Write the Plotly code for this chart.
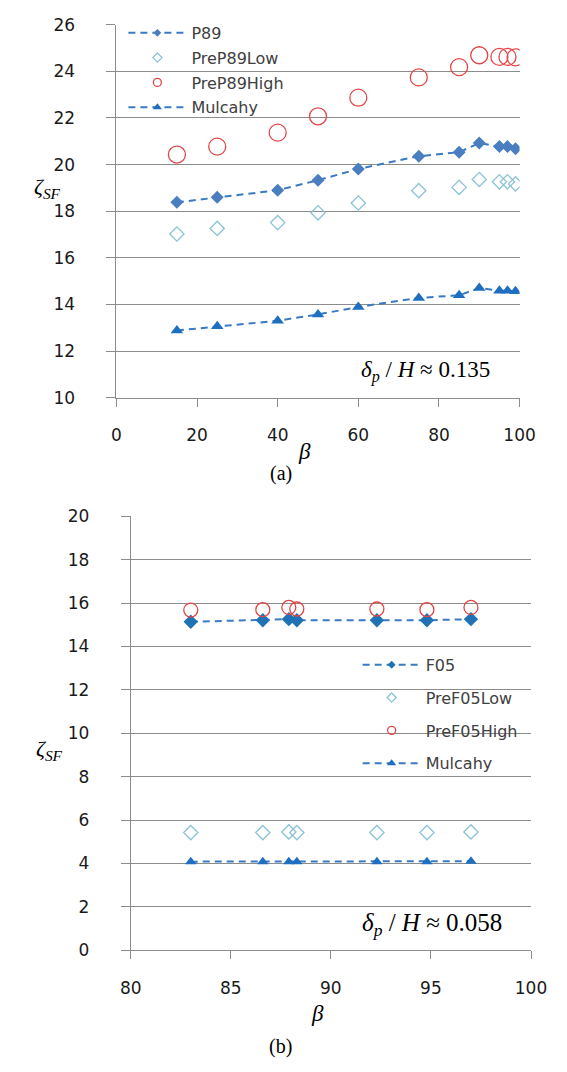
import plotly.graph_objects as go

# ---- Panel (a) data ----
beta_a = [15, 25, 40, 50, 60, 75, 85, 90, 95, 97, 99]
p89 = [18.38, 18.60, 18.90, 19.33, 19.81, 20.36, 20.53, 20.92, 20.77, 20.77, 20.68]
prep89_low = [17.02, 17.26, 17.51, 17.93, 18.35, 18.88, 19.02, 19.36, 19.26, 19.26, 19.17]
prep89_high = [20.43, 20.77, 21.37, 22.07, 22.87, 23.74, 24.18, 24.69, 24.62, 24.62, 24.60]
mulcahy_a = [12.88, 13.06, 13.30, 13.57, 13.89, 14.28, 14.39, 14.70, 14.59, 14.59, 14.56]

# ---- Panel (b) data ----
beta_b = [83.0, 86.6, 87.9, 88.3, 92.3, 94.8, 97.0]
f05 = [15.14, 15.21, 15.26, 15.21, 15.21, 15.21, 15.26]
pref05_low = [5.42, 5.42, 5.45, 5.42, 5.42, 5.42, 5.45]
pref05_high = [15.68, 15.70, 15.80, 15.73, 15.73, 15.70, 15.80]
mulcahy_b = [4.08, 4.08, 4.08, 4.08, 4.08, 4.08, 4.10]

W, H = 567, 1072
def px_x(p): return p / W
def px_y(p): return 1 - p / H

LINE_BLUE = "#3A7AC2"
P89_BLUE = "#4A7EC0"
MUL_BLUE = "#1F6FC0"
LOW_COL = "#8CC3D6"
HIGH_COL = "#E24646"
F05_COL = "#1F72B4"
GRID = "#8C8C8C"
TICKFONT = dict(family="DejaVu Sans, Verdana, sans-serif", size=17, color="#1a1a1a")
LEGFONT = dict(family="DejaVu Sans, Verdana, sans-serif", size=16, color="#404040")
DASH = "7px,5px"

fig = go.Figure()

def add_series(x, y, name, mode, marker, line, xa, ya, leg, grp, legmarker):
    fig.add_trace(go.Scatter(x=x, y=y, mode=mode, marker=marker, line=line, name=name,
                             xaxis=xa, yaxis=ya, showlegend=False))
    lm = dict(marker)
    lm.update(legmarker)
    fig.add_trace(go.Scatter(x=[None], y=[None], mode=mode, marker=lm, line=line, name=name,
                             xaxis=xa, yaxis=ya, legend=leg, legendgroup=grp, showlegend=True))

# Panel (a)
add_series(beta_a, p89, "P89", "lines+markers",
           dict(symbol="diamond", size=10, color=P89_BLUE),
           dict(color=LINE_BLUE, width=2, dash=DASH), "x", "y", "legend", "a1", dict(size=6))
add_series(beta_a, prep89_low, "PreP89Low", "markers",
           dict(symbol="diamond-open", size=11, color=LOW_COL, line=dict(width=1.3, color=LOW_COL)),
           None, "x", "y", "legend", "a2", dict(size=7))
add_series(beta_a, prep89_high, "PreP89High", "markers",
           dict(symbol="circle-open", size=17, color=HIGH_COL, line=dict(width=1.3, color=HIGH_COL)),
           None, "x", "y", "legend", "a3", dict(size=8))
add_series(beta_a, mulcahy_a, "Mulcahy", "lines+markers",
           dict(symbol="triangle-up", size=11, color=MUL_BLUE),
           dict(color=LINE_BLUE, width=2, dash=DASH), "x", "y", "legend", "a4", dict(size=8))

# Panel (b)
add_series(beta_b, f05, "F05", "lines+markers",
           dict(symbol="diamond", size=11, color=F05_COL),
           dict(color=LINE_BLUE, width=2, dash=DASH), "x2", "y2", "legend2", "b1", dict(size=6))
add_series(beta_b, pref05_low, "PreF05Low", "markers",
           dict(symbol="diamond-open", size=11, color=LOW_COL, line=dict(width=1.3, color=LOW_COL)),
           None, "x2", "y2", "legend2", "b2", dict(size=7))
add_series(beta_b, pref05_high, "PreF05High", "markers",
           dict(symbol="circle-open", size=14, color=HIGH_COL, line=dict(width=1.3, color=HIGH_COL)),
           None, "x2", "y2", "legend2", "b3", dict(size=8))
add_series(beta_b, mulcahy_b, "Mulcahy", "lines+markers",
           dict(symbol="triangle-up", size=10, color=MUL_BLUE),
           dict(color=LINE_BLUE, width=2, dash=DASH), "x2", "y2", "legend2", "b4", dict(size=8))

xcommon = dict(showgrid=False, zeroline=False, showline=True, linecolor=GRID, linewidth=1,
               ticks="outside", ticklen=8, tickcolor=GRID, tickfont=TICKFONT,
               ticklabelstandoff=14)
ycommon = dict(showgrid=True, gridcolor=GRID, gridwidth=1, zeroline=False, showline=True,
               linecolor=GRID, linewidth=1, ticks="outside", ticklen=9, tickcolor=GRID,
               tickfont=TICKFONT, ticklabelstandoff=28)

fig.update_layout(
    width=W, height=H, margin=dict(l=0, r=0, t=0, b=0),
    paper_bgcolor="white", plot_bgcolor="white", showlegend=True,
    xaxis=dict(domain=[px_x(110.7), px_x(534)], range=[0, 100], tickvals=[0, 20, 40, 60, 80, 100],
               anchor="y", **xcommon),
    yaxis=dict(domain=[px_y(395), px_y(15)], range=[10, 26], tickvals=list(range(10, 27, 2)),
               anchor="x", **ycommon),
    xaxis2=dict(domain=[px_x(125.7), px_x(546)], range=[80, 100], tickvals=[80, 85, 90, 95, 100],
                anchor="y2", **xcommon),
    yaxis2=dict(domain=[px_y(958), px_y(516)], range=[0, 20], tickvals=list(range(0, 21, 2)),
                anchor="x2", **ycommon),
    legend=dict(x=px_x(118), y=px_y(6), xanchor="left", yanchor="top", bgcolor="rgba(0,0,0,0)",
                font=LEGFONT, itemwidth=58, tracegroupgap=1),
    legend2=dict(x=px_x(364), y=px_y(650), xanchor="left", yanchor="top", bgcolor="rgba(0,0,0,0)",
                 font=LEGFONT, itemwidth=58, tracegroupgap=9),
)

SERIF = "Liberation Serif, Times New Roman, serif"
ann = [
    dict(text="<i>δ</i><sub><i>p</i></sub> / <i>H</i> ≈ 0.135", x=px_x(435), y=px_y(368), size=23),
    dict(text="<i>δ</i><sub><i>p</i></sub> / <i>H</i> ≈ 0.058", x=px_x(442), y=px_y(932), size=25),
    dict(text="<i>ζ</i><sub><i>SF</i></sub>", x=px_x(38), y=px_y(181), size=22),
    dict(text="<i>ζ</i><sub><i>SF</i></sub>", x=px_x(40), y=px_y(754), size=22),
    dict(text="<i>β</i>", x=px_x(308), y=px_y(450), size=23),
    dict(text="<i>β</i>", x=px_x(322), y=px_y(1023), size=23),
    dict(text="(a)", x=px_x(283), y=px_y(472), size=20),
    dict(text="(b)", x=px_x(283), y=px_y(1056), size=20),
]
for a in ann:
    fig.add_annotation(text=a["text"], x=a["x"], y=a["y"], xref="paper", yref="paper",
                       xanchor="center", yanchor="middle", showarrow=False,
                       font=dict(family=SERIF, size=a["size"], color="black"))

fig.write_html("out.html")
